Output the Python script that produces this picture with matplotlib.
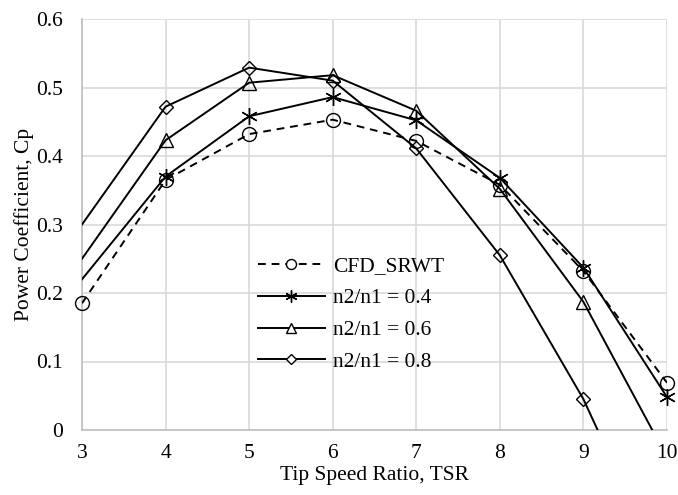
"""Power coefficient vs tip speed ratio for the SRWT cases."""

import matplotlib.pyplot as plt
import numpy as np

tsr = [3, 4, 5, 6, 7, 8, 9, 10]
cp_cfd = [0.185, 0.365, 0.432, 0.453, 0.422, 0.358, 0.232, 0.069]
cp_04 = [0.220, 0.370, 0.458, 0.486, 0.452, 0.368, 0.237, 0.048]
cp_06 = [0.250, 0.423, 0.507, 0.518, 0.466, 0.352, 0.187, -0.040]
cp_08 = [0.300, 0.472, 0.529, 0.510, 0.411, 0.255, 0.045, -0.220]

series_labels = ["CFD_SRWT", "n2/n1 = 0.4", "n2/n1 = 0.6", "n2/n1 = 0.8"]

plt.rcParams["font.family"] = ["Liberation Serif", "DejaVu Serif"]
plt.rcParams["font.size"] = 15.5

fig = plt.figure(figsize=(6.78, 4.95), dpi=100)
ax = fig.add_axes([82 / 678, 1 - 430 / 495, 585 / 678, 411 / 495])

asterisk = (6, 2, 0)
styles = [
    dict(ls="--", marker="o", ms=10),
    dict(ls="-", marker=asterisk, ms=12),
    dict(ls="-", marker="^", ms=10),
    dict(ls="-", marker="D", ms=7.5),
]
# markers hidden at the first point for the n2/n1 cases, as in the source
hide_first = [False, True, True, True]

x = np.array(tsr)
for values, label, style, hide in zip([cp_cfd, cp_04, cp_06, cp_08], series_labels, styles, hide_first):
    y = np.array(values)
    dashes = (4, 3) if style["ls"] == "--" else (None, None)
    ax.plot(x, y, color="black", lw=1.4, ls=style["ls"], dashes=dashes, zorder=3)
    keep = y >= 0
    if hide:
        keep[0] = False
    ax.plot(x[keep], y[keep], ls="none", marker=style["marker"], ms=style["ms"],
            mfc="none", mec="black", mew=1.0, clip_on=False, zorder=4)
    ax.plot([], [], color="black", lw=1.4, ls=style["ls"], dashes=dashes, marker=style["marker"],
            ms=style["ms"] * 0.72, mfc="white", mec="black", mew=1.0, label=label)

ax.set_xlim(3, 10)
ax.set_ylim(0, 0.6)
ax.set_xticks(range(3, 11))
ax.set_yticks(np.arange(0, 0.61, 0.1))
ax.set_yticklabels(["0", "0.1", "0.2", "0.3", "0.4", "0.5", "0.6"])
ax.grid(True, color="#d9d9d9", lw=1.2)
ax.set_axisbelow(True)
ax.tick_params(length=0)
ax.tick_params(axis="y", pad=14)
ax.tick_params(axis="x", pad=10)
for side in ["top", "right"]:
    ax.spines[side].set_visible(False)
for side in ["left", "bottom"]:
    ax.spines[side].set_color("#bfbfbf")
    ax.spines[side].set_linewidth(1.2)

ax.set_xlabel("Tip Speed Ratio, TSR", labelpad=2)
ax.set_ylabel("Power Coefficient, Cp", labelpad=1)

ax.legend(loc="upper left", bbox_to_anchor=(0.301, 0.423), frameon=False,
          handlelength=3.1, handletextpad=0.4, labelspacing=0.55, borderpad=0,
          borderaxespad=0)

fig.savefig("out.png", dpi=100)
